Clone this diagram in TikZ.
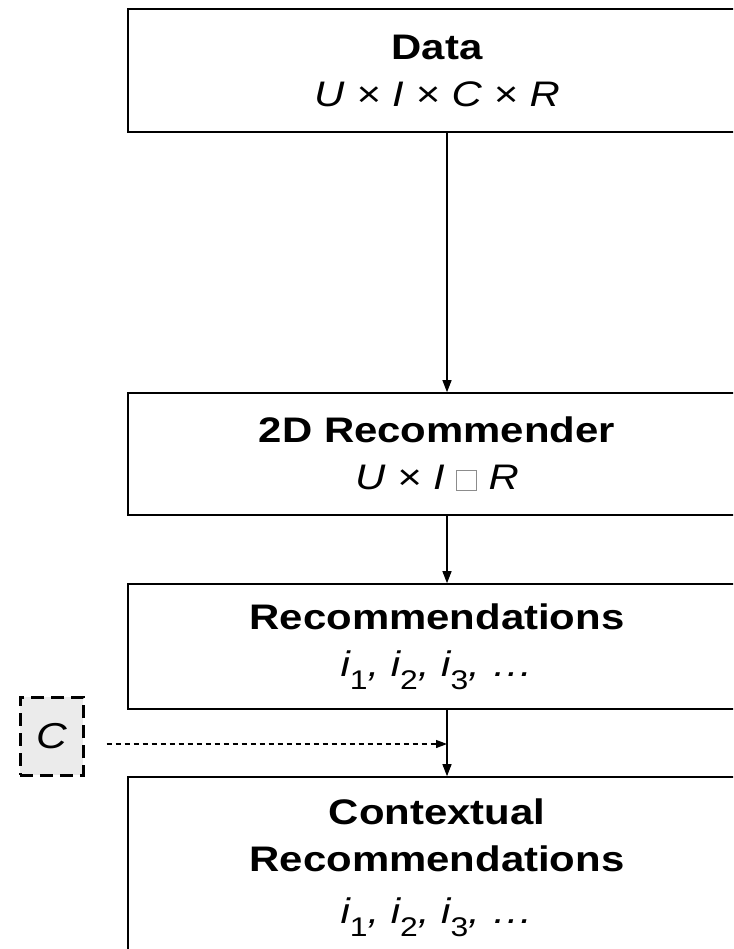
\documentclass[tikz,border=0pt]{standalone}
\usepackage{fontspec}
\setmainfont{Liberation Sans}[FakeStretch=1.18]
\usetikzlibrary{arrows.meta}

% upright subscript index set below the baseline
\newcommand{\isub}[1]{\raisebox{-13pt}{\fontsize{27}{27}\selectfont\upshape #1}}
% empty placeholder square in the 2D formula
\newcommand{\hollowsq}{{\color{black!45}\fboxsep=0pt\fboxrule=0.8pt%
  \fbox{\rule{0pt}{19pt}\hspace{19pt}}}}

\begin{document}
\begin{tikzpicture}[x=1pt, y=-1pt,
  block/.style={draw, line width=1.6pt, minimum width=618pt, inner sep=0pt,
    align=center, font=\fontsize{35.5}{47}\selectfont},
  flow/.style={-{Triangle[length=12pt,width=9pt]}, line width=1.1pt},
  ctxflow/.style={-{Triangle[length=11pt,width=8pt]}, line width=1.1pt,
    dash pattern=on 5pt off 4pt},
  ctxbox/.style={draw, line width=3pt, dash pattern=on 13pt off 7pt,
    fill=black!8, minimum width=63pt, minimum height=78pt, inner sep=0pt,
    font=\fontsize{36}{46}\selectfont\itshape}]

  \useasboundingbox (0,0) rectangle (733,949);
  \clip (0,0) rectangle (733,949);

  % processing stages
  \node[block, minimum height=123pt] (data) at (437,70.5)
    {\bfseries Data\\ \itshape U × I × C × R};
  \node[block, minimum height=122pt] (rec2d) at (437,454)
    {\bfseries 2D Recommender\\ \itshape U × I \hollowsq{} R};
  \node[block, minimum height=125pt] (recs) at (437,646.5)
    {\bfseries Recommendations\\ \itshape i\isub{1}, i\isub{2}, i\isub{3}, …};
  \node[block, minimum height=182pt] (ctx) at (437,868)
    {\bfseries Contextual\\ \bfseries Recommendations\\[5pt]
     \itshape i\isub{1}, i\isub{2}, i\isub{3}, …};

  % context input
  \node[ctxbox] (c) at (51.5,736) {\raisebox{-4pt}{C}};

  % connectors
  \draw[flow] ([xshift=10pt]data.south) -- ([xshift=10pt]rec2d.north);
  \draw[flow] ([xshift=10pt]rec2d.south) -- ([xshift=10pt]recs.north);
  \draw[flow] ([xshift=10pt]recs.south) -- ([xshift=10pt]ctx.north);
  \coordinate (join) at (447,744);
  \draw[ctxflow] ([xshift=22pt,yshift=-8pt]c.east) -- (join);
\end{tikzpicture}
\end{document}
